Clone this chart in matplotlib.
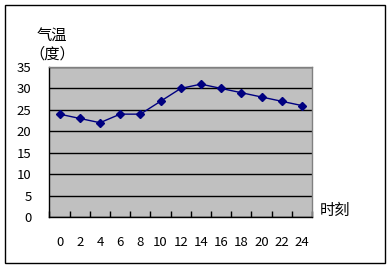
import matplotlib
matplotlib.use("Agg")
import matplotlib.pyplot as plt
from matplotlib.patches import Rectangle
import numpy as np

plt.rcParams['font.family'] = ['Noto Sans CJK SC', 'DejaVu Sans']

hours = ['0', '2', '4', '6', '8', '10', '12', '14', '16', '18', '20', '22', '24']
temps = [24, 23, 22, 24, 24, 27, 30, 31, 30, 29, 28, 27, 26]
yticks = [0, 5, 10, 15, 20, 25, 30, 35]

W, H = 392, 269
fig = plt.figure(figsize=(W / 100, H / 100), dpi=100)
fig.patch.set_facecolor('white')

# outer chart border
fig.add_artist(Rectangle((5 / W, 1 - 263 / H), 380 / W, 258 / H,
                         transform=fig.transFigure, fill=False,
                         edgecolor='black', linewidth=1.0))

ax = fig.add_axes([49.5 / W, 1 - 217 / H, 262.5 / W, 150 / H])
ax.set_facecolor('#C0C0C0')
x = np.arange(len(hours))
ax.plot(x, temps, color='#000080', linewidth=1.0, marker='D', markersize=4,
        markerfacecolor='#000080', markeredgecolor='#000080', zorder=3)

ax.set_xlim(-0.5, len(hours) - 0.5)
ax.set_ylim(0, 35)
ax.set_yticks(yticks)
ax.set_yticklabels([str(v) for v in yticks], fontsize=9.5)
ax.yaxis.grid(True, color='black', linewidth=1.0)
ax.set_axisbelow(True)
ax.tick_params(axis='y', length=0, pad=13)

ax.set_xticks(x)
ax.set_xticklabels(hours, fontsize=9.5)
ax.tick_params(axis='x', which='major', length=0, pad=14)
ax.set_xticks(np.arange(-0.5, len(hours) + 0.5, 1), minor=True)
ax.tick_params(axis='x', which='minor', direction='in', length=4, color='black', width=1)

for s in ['top', 'right']:
    ax.spines[s].set_color('#808080')
for s in ['left', 'bottom']:
    ax.spines[s].set_color('black')
for s in ax.spines.values():
    s.set_linewidth(1.0)

fig.text(52 / W, 1 - 35 / H, '气温', fontsize=11, ha='center', va='center')
fig.text(52 / W, 1 - 54 / H, '（度）', fontsize=11, ha='center', va='center')
fig.text(335 / W, 1 - 210 / H, '时刻', fontsize=11, ha='center', va='center')

fig.savefig('out.png', dpi=100)
